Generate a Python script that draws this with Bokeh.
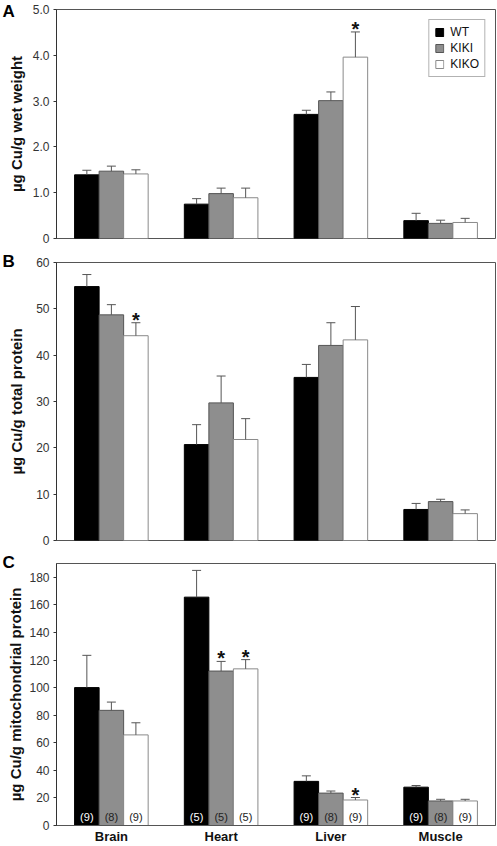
from bokeh.plotting import figure
from bokeh.layouts import column
from bokeh.models import ColumnDataSource, Range1d, FixedTicker, Title
from bokeh.transform import dodge
from bokeh.core.properties import value
from bokeh.embed import file_html
from bokeh.resources import INLINE

tissues = ["Brain", "Heart", "Liver", "Muscle"]
genotypes = ["WT", "KIKI", "KIKO"]

# Panel A: ug Cu/g wet weight
wet_wt = [1.39, 0.75, 2.71, 0.39]
wet_kiki = [1.47, 0.98, 3.01, 0.33]
wet_kiko = [1.41, 0.89, 3.96, 0.35]
wet_wt_err = [0.10, 0.12, 0.09, 0.16]
wet_kiki_err = [0.11, 0.12, 0.19, 0.07]
wet_kiko_err = [0.09, 0.21, 0.55, 0.09]
wet_sig = [("Liver", "KIKO")]
wet_ticks = [0, 1, 2, 3, 4, 5]
wet_tick_labels = ["0", "1.0", "2.0", "3.0", "4.0", "5.0"]

# Panel B: ug Cu/g total protein
tot_wt = [54.8, 20.7, 35.2, 6.7]
tot_kiki = [48.7, 29.7, 42.1, 8.4]
tot_kiko = [44.2, 21.8, 43.3, 5.8]
tot_wt_err = [2.6, 4.3, 2.8, 1.3]
tot_kiki_err = [2.2, 5.8, 4.9, 0.5]
tot_kiko_err = [2.8, 4.5, 7.2, 0.8]
tot_sig = [("Brain", "KIKO")]
tot_ticks = [0, 10, 20, 30, 40, 50, 60]
tot_tick_labels = ["0", "10", "20", "30", "40", "50", "60"]

# Panel C: ug Cu/g mitochondrial protein
mit_wt = [100.0, 165.6, 32.0, 27.8]
mit_kiki = [83.5, 112.0, 23.5, 17.8]
mit_kiko = [65.7, 113.6, 18.5, 17.8]
mit_wt_err = [23.4, 19.4, 4.0, 1.2]
mit_kiki_err = [6.0, 7.0, 1.5, 1.2]
mit_kiko_err = [8.8, 6.7, 1.8, 1.2]
mit_sig = [("Heart", "KIKI"), ("Heart", "KIKO"), ("Liver", "KIKO")]
mit_ticks = [0, 20, 40, 60, 80, 100, 120, 140, 160, 180]
mit_tick_labels = ["0", "20", "40", "60", "80", "100", "120", "140", "160", "180"]
n_wt = ["(9)", "(5)", "(9)", "(9)"]
n_kiki = ["(8)", "(5)", "(8)", "(8)"]
n_kiko = ["(9)", "(5)", "(9)", "(9)"]

FONT = "Liberation Sans"
BAR_W = 0.2235
OFFS = {"WT": -BAR_W, "KIKI": 0.0, "KIKO": BAR_W}
FILL = {"WT": "#000000", "KIKI": "#8e8e8e", "KIKO": "#ffffff"}
LINE = {"WT": "#000000", "KIKI": "#555555", "KIKO": "#8a8a8a"}
NCOL = {"WT": "#ffffff", "KIKI": "#222222", "KIKO": "#222222"}
CAP = 0.041
FW = 497
BL = 56
BR = 2


def panel(vals, errs, sig, y_end, ticks, tick_labels, ylabel, height, btop,
          bbot, title_standoff, letter, letter_standoff, legend=False,
          show_x=False, nlabels=None):
    p = figure(x_range=tissues, width=FW, height=height,
               output_backend="svg", toolbar_location=None,
               min_border_left=BL, min_border_right=BR,
               min_border_top=btop, min_border_bottom=bbot)
    p.y_range = Range1d(0, y_end)
    p.xgrid.visible = False
    p.ygrid.visible = False
    p.outline_line_color = "#555555"
    p.outline_line_width = 1
    p.background_fill_color = "white"
    p.border_fill_color = "white"

    for g in genotypes:
        top = vals[g]
        etop = [t + e for t, e in zip(top, errs[g])]
        data = dict(x=tissues, top=top, etop=etop)
        if nlabels is not None:
            data["n"] = nlabels[g]
        src = ColumnDataSource(data)
        off = OFFS[g]
        kw = dict(legend_label=g) if legend else {}
        p.vbar(x=dodge("x", off, range=p.x_range), top="top", width=BAR_W,
               source=src, fill_color=FILL[g], line_color=LINE[g],
               line_width=1, **kw)
        p.segment(x0=dodge("x", off, range=p.x_range), y0="top",
                  x1=dodge("x", off, range=p.x_range), y1="etop",
                  source=src, line_color="#555555", line_width=1)
        p.segment(x0=dodge("x", off - CAP, range=p.x_range), y0="etop",
                  x1=dodge("x", off + CAP, range=p.x_range), y1="etop",
                  source=src, line_color="#555555", line_width=1)
        if nlabels is not None:
            p.text(x=dodge("x", off, range=p.x_range), y=0, text="n",
                   source=src, text_align="center", text_baseline="middle",
                   y_offset=-9, text_font=value(FONT),
                   text_font_size="11px", text_color=NCOL[g])

    # significance asterisks
    for g in genotypes:
        xs = [t for (t, gg) in sig if gg == g]
        if not xs:
            continue
        ys = [vals[g][tissues.index(t)] + errs[g][tissues.index(t)] for t in xs]
        s = ColumnDataSource(dict(x=xs, y=ys, t=["*"] * len(xs)))
        p.text(x=dodge("x", OFFS[g], range=p.x_range), y="y", text="t",
               source=s, text_align="center", text_baseline="alphabetic",
               y_offset=-3, text_font=value(FONT), text_font_size="20px",
               text_font_style="bold", text_color="#111111")

    yax = p.yaxis[0]
    yax.ticker = FixedTicker(ticks=ticks)
    yax.major_label_overrides = {t: l for t, l in zip(ticks, tick_labels)}
    yax.major_tick_out = 3
    yax.major_tick_in = 0
    yax.minor_tick_out = 0
    yax.minor_tick_in = 0
    yax.major_label_standoff = 4
    yax.major_label_text_font = FONT
    yax.major_label_text_font_size = "12px"
    yax.major_label_text_color = "#333333"
    yax.axis_line_color = "#333333"
    yax.major_tick_line_color = "#333333"
    yax.axis_label = ylabel
    yax.axis_label_text_font = FONT
    yax.axis_label_text_font_size = "15px"
    yax.axis_label_text_font_style = "bold"
    yax.axis_label_text_color = "#111111"
    yax.axis_label_standoff = title_standoff

    xax = p.xaxis[0]
    if show_x:
        xax.major_tick_line_color = None
        xax.major_tick_out = 0
        xax.major_tick_in = 0
        xax.axis_line_color = "#555555"
        xax.major_label_text_font = FONT
        xax.major_label_text_font_size = "13px"
        xax.major_label_text_font_style = "bold"
        xax.major_label_text_color = "#111111"
        xax.major_label_standoff = 3
    else:
        xax.visible = False

    # panel letter as a left-aligned title pulled to the canvas's left edge
    p.add_layout(Title(text=letter, align="left", offset=-(BL - 2),
                       standoff=letter_standoff, vertical_align="bottom",
                       text_font=FONT, text_font_size="17px",
                       text_font_style="bold", text_color="#000000"), "above")

    if legend:
        lg = p.legend[0]
        lg.location = "top_right"
        lg.margin = 10
        lg.padding = 5
        lg.spacing = 2
        lg.glyph_width = 10
        lg.glyph_height = 10
        lg.label_height = 12
        lg.label_standoff = 6
        lg.label_text_font = FONT
        lg.label_text_font_size = "12px"
        lg.label_text_color = "#111111"
        lg.border_line_color = "#666666"
        lg.border_line_width = 1
        lg.background_fill_alpha = 1
    return p


pA = panel({"WT": wet_wt, "KIKI": wet_kiki, "KIKO": wet_kiko},
           {"WT": wet_wt_err, "KIKI": wet_kiki_err, "KIKO": wet_kiko_err},
           wet_sig, 5.0, wet_ticks, wet_tick_labels, "\u00b5g Cu/g wet weight",
           250, 9, 12, 5, "A", -22, legend=True)
pB = panel({"WT": tot_wt, "KIKI": tot_kiki, "KIKO": tot_kiko},
           {"WT": tot_wt_err, "KIKI": tot_kiki_err, "KIKO": tot_kiko_err},
           tot_sig, 60.0, tot_ticks, tot_tick_labels,
           "\u00b5g Cu/g total protein", 300, 12, 10, 8, "B", -16)
pC = panel({"WT": mit_wt, "KIKI": mit_kiki, "KIKO": mit_kiko},
           {"WT": mit_wt_err, "KIKI": mit_kiki_err, "KIKO": mit_kiko_err},
           mit_sig, 190.0, mit_ticks, mit_tick_labels,
           "\u00b5g Cu/g mitochondrial protein", 296, 13, 18, 2, "C", -16,
           show_x=True, nlabels={"WT": n_wt, "KIKI": n_kiki, "KIKO": n_kiko})

layout = column(pA, pB, pC, spacing=0)
open("out.html", "w").write(file_html(layout, INLINE))
